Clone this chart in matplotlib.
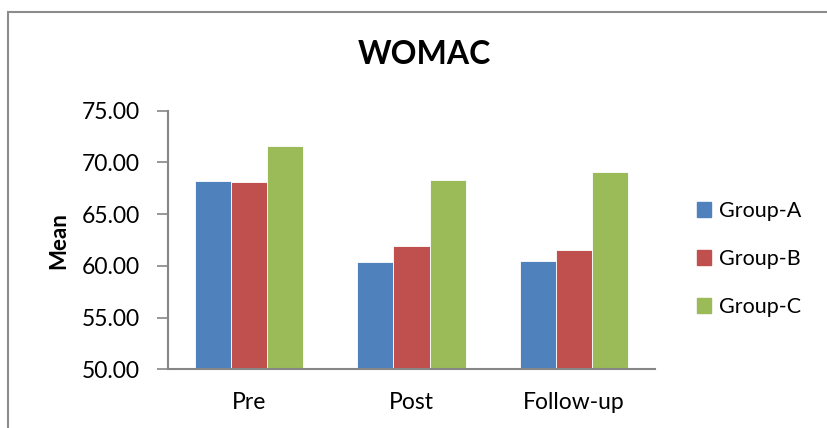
import matplotlib
matplotlib.use("Agg")
import matplotlib.pyplot as plt
import numpy as np
from matplotlib.patches import Rectangle

categories = ["Pre", "Post", "Follow-up"]
groups = ["Group-A", "Group-B", "Group-C"]
group_a = [68.20, 60.34, 60.43]
group_b = [68.13, 61.92, 61.50]
group_c = [71.62, 68.30, 69.10]
yticks = [50, 55, 60, 65, 70, 75]
colors = ["#4F81BD", "#C0504D", "#9BBB59"]

plt.rcParams['font.family'] = ['Lato', 'DejaVu Sans']

W, H = 827, 428
fig = plt.figure(figsize=(W / 100, H / 100), dpi=100)
ax = fig.add_axes([168 / W, 1 - 369.3 / H, (655 - 168) / W, (369.3 - 110.7) / H])

# chart border
fig.patches.append(Rectangle((8.3 / W, -0.1), 1.2, (1 - 11.7 / H) + 0.1,
                             transform=fig.transFigure, fill=False,
                             edgecolor="#8C8C8C", linewidth=1.5))

x = np.arange(len(categories))
bw = 0.667 / 3
series = [group_a, group_b, group_c]
for i, (vals, c, g) in enumerate(zip(series, colors, groups)):
    ax.bar(x + (i - 1) * bw, np.array(vals) - 50, bottom=50, width=bw,
           color=c, edgecolor="white", linewidth=0.6, label=g, zorder=2)

ax.set_xlim(-0.5, 2.5)
ax.set_ylim(50, 75)
ax.set_yticks(yticks)
ax.set_yticklabels([f"{v:.2f}" for v in yticks], fontsize=16.5)
ax.set_xticks(x)
ax.set_xticklabels(categories, fontsize=16.5)
ax.tick_params(axis='y', direction='out', length=8, width=1.2, color="#868686", pad=12)
ax.tick_params(axis='x', length=0, pad=16)

for s in ["top", "right"]:
    ax.spines[s].set_visible(False)
for s in ["left", "bottom"]:
    ax.spines[s].set_color("#868686")
    ax.spines[s].set_linewidth(1.5)
ax.spines["bottom"].set_zorder(3)

fig.text(59 / W, 1 - 241 / H, "Mean", rotation=90, ha="center", va="center",
         fontsize=16, fontweight="bold")

fig.text(424 / W, 1 - 55 / H, "WOMAC", ha="center", va="center",
         fontsize=23, fontweight="bold")

# legend
handles = [Rectangle((0, 0), 1, 1, color=c) for c in colors]
leg = fig.legend(handles, groups, loc="center left",
                 bbox_to_anchor=(697 / W, 1 - 259 / H), frameon=False,
                 fontsize=15.5, handlelength=0.65, handleheight=0.65,
                 handletextpad=0.35, labelspacing=1.3, borderaxespad=0, borderpad=0)

fig.savefig("out.png", dpi=100, facecolor="white")
